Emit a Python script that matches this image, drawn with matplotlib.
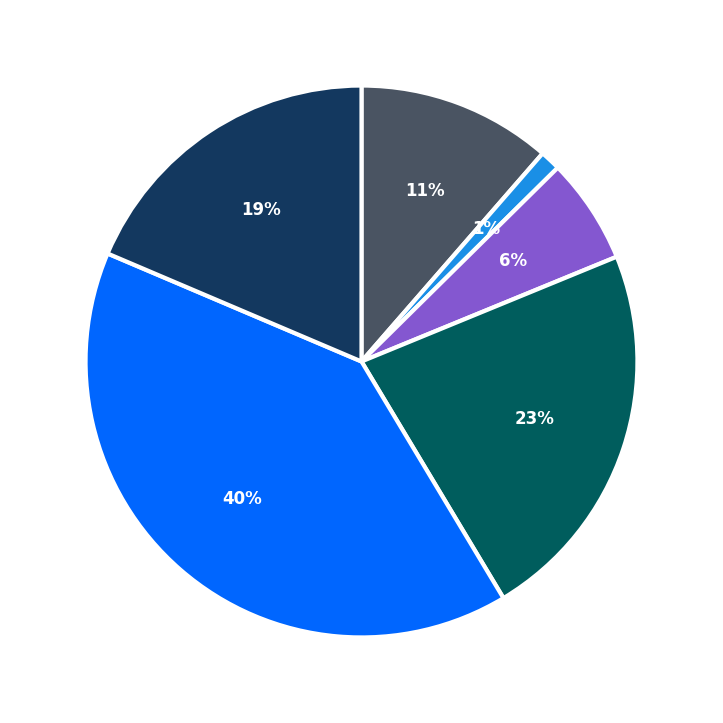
import matplotlib.pyplot as plt

values = [11.4, 1.2, 6.2, 22.6, 40.0, 18.6]
colors = ["#4a5462", "#1a8fe6", "#8457d0", "#005d5d", "#0066ff", "#13385f"]

fig, ax = plt.subplots(figsize=(7.23, 7.23), dpi=100)
fig.subplots_adjust(left=0, right=1, bottom=0, top=1)
wedges, texts, autotexts = ax.pie(
    values, colors=colors, startangle=90, counterclock=False,
    autopct="%.0f%%", pctdistance=0.66, radius=1.0,
    wedgeprops=dict(edgecolor="white", linewidth=3),
    textprops=dict(color="white", fontsize=12, fontweight="bold"),
)
ax.set_xlim(-1.31, 1.31)
ax.set_ylim(-1.31, 1.31)
ax.set_aspect("equal")
fig.savefig("out.png", dpi=100)
